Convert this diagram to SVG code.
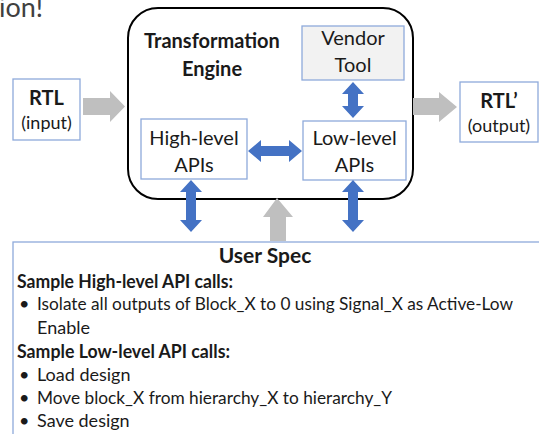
<svg xmlns="http://www.w3.org/2000/svg" width="539" height="434" viewBox="0 0 539 434">
  <style>
    text { font-family: Lato, "Open Sans", "Liberation Sans", sans-serif; fill: #1a1a1a; }
    .b { font-weight: bold; }
    .mid { text-anchor: middle; }
    .lbl { font-size: 20px; }
    .small { font-size: 18px; }
    .body { font-size: 18px; }
    .box { fill: #ffffff; stroke: #8eaadb; stroke-width: 1.3; }
    .grey { fill: #bfbfbf; }
    .blue { fill: #4472c4; }
  </style>

  <!-- heading fragment in the top-left corner -->
  <text x="-1" y="17" style="font-size:27px; fill:#404040">ion!</text>

  <g id="engine">
    <rect x="128" y="8" width="285" height="191" rx="30" ry="30" fill="none" stroke="#000000" stroke-width="2"/>
    <text class="b mid lbl" x="212" y="48">Transformation</text>
    <text class="b mid lbl" x="212" y="76">Engine</text>
  </g>

  <g id="vendor-tool">
    <rect class="box" x="302" y="26" width="102" height="54" style="fill:#f2f2f2"/>
    <text class="mid lbl" x="353" y="45">Vendor</text>
    <text class="mid lbl" x="353" y="72">Tool</text>
  </g>

  <g id="high-level">
    <rect class="box" x="141" y="119" width="106" height="60"/>
    <text class="mid lbl" x="194" y="145">High-level</text>
    <text class="mid lbl" x="194" y="172">APIs</text>
  </g>

  <g id="low-level">
    <rect class="box" x="303" y="121" width="103" height="59"/>
    <text class="mid lbl" x="354.5" y="145">Low-level</text>
    <text class="mid lbl" x="354.5" y="172">APIs</text>
  </g>

  <g id="rtl-in">
    <rect class="box" x="13" y="79" width="67" height="61"/>
    <text class="b mid lbl" x="46.5" y="105">RTL</text>
    <text class="mid small" x="46.5" y="129">(input)</text>
  </g>

  <g id="rtl-out">
    <rect class="box" x="460" y="82" width="78" height="60"/>
    <text class="b mid lbl" x="499" y="108">RTL’</text>
    <text class="mid small" x="499" y="132">(output)</text>
  </g>

  <g id="user-spec">
    <rect class="box" x="13" y="242" width="540" height="200"/>
    <text class="b mid" x="265" y="263" style="font-size:21px">User Spec</text>
    <text class="b body" x="17" y="288" textLength="216" lengthAdjust="spacingAndGlyphs">Sample High-level API calls:</text>
    <text class="body" x="19" y="310">•</text>
    <text class="body" x="37" y="310" textLength="476" lengthAdjust="spacingAndGlyphs">Isolate all outputs of Block_X to 0 using Signal_X as Active-Low</text>
    <text class="body" x="37" y="334">Enable</text>
    <text class="b body" x="17" y="358" textLength="213" lengthAdjust="spacingAndGlyphs">Sample Low-level API calls:</text>
    <text class="body" x="19" y="381">•</text>
    <text class="body" x="37" y="381">Load design</text>
    <text class="body" x="19" y="404">•</text>
    <text class="body" x="37" y="404" textLength="355" lengthAdjust="spacingAndGlyphs">Move block_X from hierarchy_X to hierarchy_Y</text>
    <text class="body" x="19" y="427">•</text>
    <text class="body" x="37" y="427">Save design</text>
  </g>

  <g id="connectors">
    <!-- grey block arrows: data flow in, out, and spec feed -->
    <polygon class="grey" points="83,98 110,98 110,91 125,106.5 110,122 110,115 83,115"/>
    <polygon class="grey" points="413,98 439,98 439,92 457,107 439,122 439,115 413,115"/>
    <polygon class="grey" points="277,198 293,217 286,217 286,241 270,241 270,217 263,217"/>
    <!-- blue two-way arrows -->
    <polygon class="blue" points="248,151 261,140 261,146 289,146 289,140 302,151 289,162 289,156 261,156 261,162"/>
    <polygon class="blue" points="353,82 364,94 358,94 358,106 364,106 353,118 342,106 348,106 348,94 342,94"/>
    <polygon class="blue" points="191,180 202,192 196,192 196,220 202,220 191,232 180,220 186,220 186,192 180,192"/>
    <polygon class="blue" points="353,180 364,192 358,192 358,220 364,220 353,232 342,220 348,220 348,192 342,192"/>
  </g>
</svg>
